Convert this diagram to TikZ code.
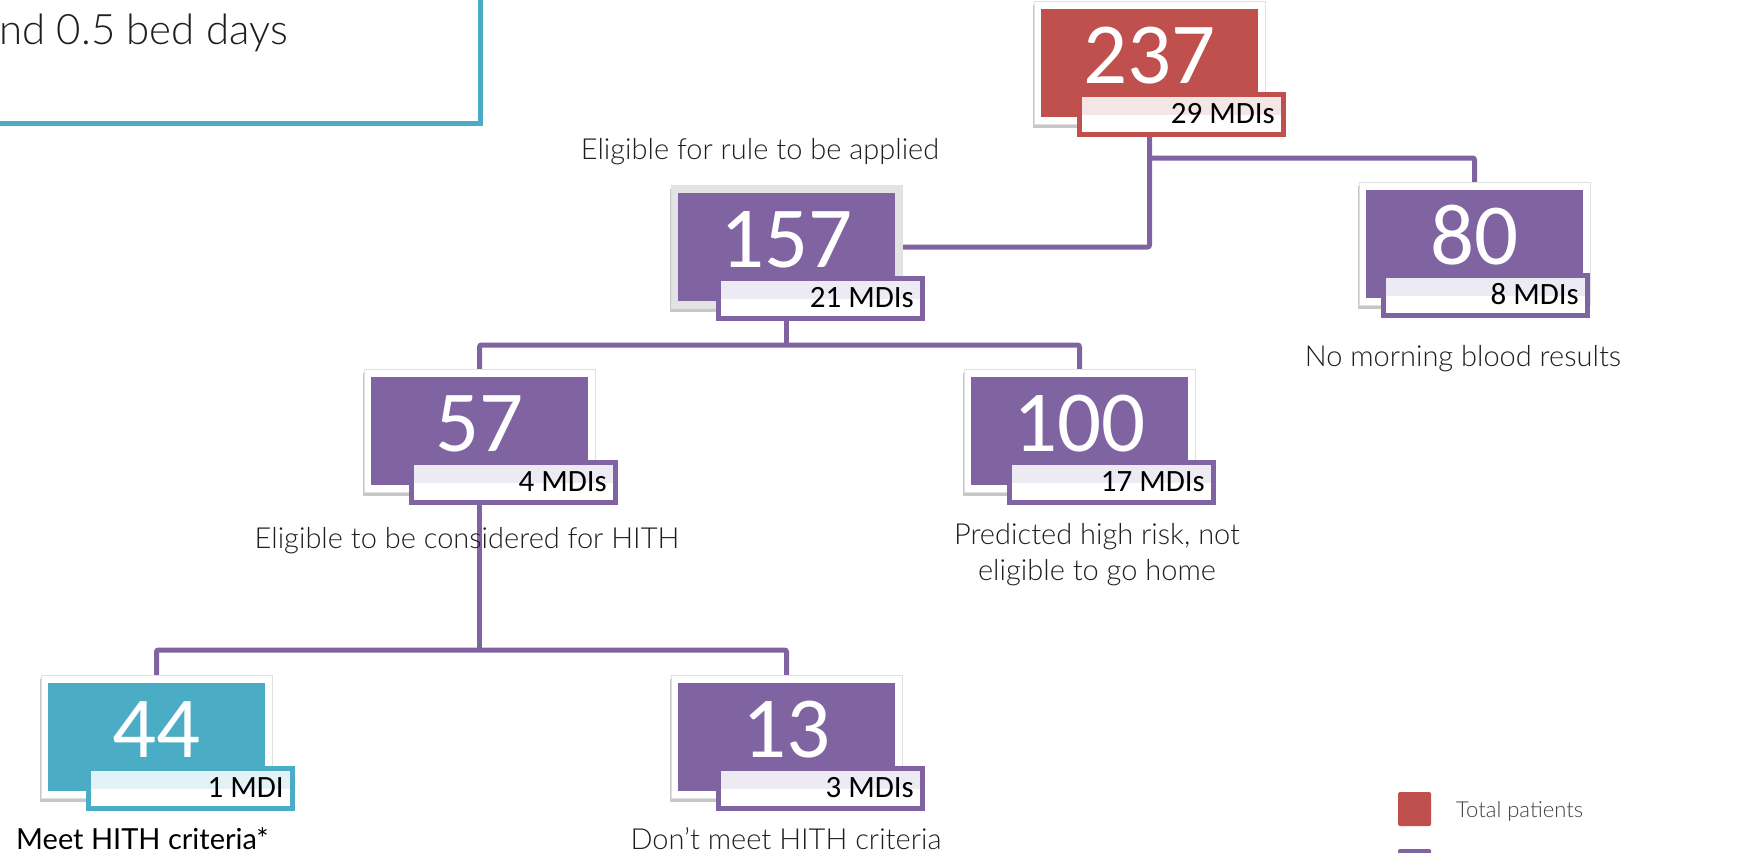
\documentclass[tikz,border=0pt]{standalone}
\usepackage{fontspec}
\setmainfont{Carlito}
\newfontfamily\lab{Lato}[UprightFont={* Light}]
\newfontfamily\labreg{Lato}
\usetikzlibrary{shadows}
\definecolor{cred}{HTML}{C0504D}
\definecolor{cpurple}{HTML}{8064A2}
\definecolor{cteal}{HTML}{4BACC6}
\definecolor{tred}{HTML}{F5E6E6}
\definecolor{tpurple}{HTML}{EEEAF3}
\definecolor{tteal}{HTML}{E3F2F6}
\definecolor{labgray}{HTML}{1E1E1E}
\pgfdeclarelayer{bg}
\pgfsetlayers{bg,main}
\tikzset{
  boxframe/.style={draw=black!12, line width=0.6pt, minimum width=231pt, minimum height=123pt, inner sep=0pt,
    drop shadow={shadow xshift=-1.5pt, shadow yshift=-3pt, opacity=0.22, fill=black}},
  fillbox/.style={minimum width=217pt, minimum height=108pt, inner sep=0pt},
  numtxt/.style={text=white, font=\fontsize{87}{87}\selectfont, inner sep=0pt},
  mdibox/.style={line width=4.5pt, minimum width=204pt, minimum height=40pt, inner sep=0pt,
    path picture={\fill[white] (path picture bounding box.west) rectangle (path picture bounding box.south east);}},
  mditxt/.style={font=\fontsize{31}{31}\selectfont, inner sep=0pt, anchor=base east},
  lbl/.style={font=\lab\fontsize{29}{34}\selectfont, text=labgray, inner sep=0pt, anchor=base},
  conn/.style={draw=cpurple, line width=5pt, rounded corners=2pt},
  legsq/.style={minimum width=33pt, minimum height=34pt, inner sep=0pt, rounded corners=1.5pt},
}
% #1 name #2 colour #3 tint #4 fill left #5 fill top #6 number #7 mdi left #8 mdi text #9 frame fill
\newcommand{\flowbox}[9]{%
  \node[boxframe, fill=#9] (f#1) at ({#4+108.5},{#5+54}) {};
  \node[fillbox, fill=#2] (n#1) at ({#4+108.5},{#5+54}) {};
  \node[numtxt, anchor=base] (t#1) at ({#4+108.5},{#5+74}) {#6};
  \node[mdibox, draw=#2, fill=#3] (m#1) at ({#7+103.5},{#5+105.5}) {};
  \node[mditxt] (d#1) at ({#7+197},{#5+114}) {#8};
}
\begin{document}
\begin{tikzpicture}[x=1pt,y=-1pt]
\path[use as bounding box] (0,0) rectangle (1741,852);
\clip (0,0) rectangle (1741,852);

% top-left box (cut off)
\draw[cteal, line width=5pt] (-20,-20) rectangle (480,123);
\node[lbl, anchor=base west, font=\lab\fontsize{42}{48}\selectfont] (tl) at (-1,44) {nd 0.5 bed days};

\flowbox{237}{cred}{tred}{1041}{9}{237}{1078}{29 MDIs}{white}
\flowbox{157}{cpurple}{tpurple}{678}{193}{157}{717}{21 MDIs}{black!11}
\flowbox{80}{cpurple}{tpurple}{1366}{190}{80}{1382}{8 MDIs}{white}
\flowbox{57}{cpurple}{tpurple}{371}{377}{57}{410}{4 MDIs}{white}
\flowbox{100}{cpurple}{tpurple}{971}{377}{100}{1008}{17 MDIs}{white}
\flowbox{44}{cteal}{tteal}{48}{683}{44}{87}{1 MDI}{white}
\flowbox{13}{cpurple}{tpurple}{678}{683}{13}{717}{3 MDIs}{white}

\coordinate (j1) at (n237.center |- 0,158);
\coordinate (j2) at (n157.center |- 0,345);
\coordinate (j3) at (n57.center |- 0,650);

\begin{pgfonlayer}{bg}
  \draw[conn] (n237.center) |- (f157.east);
  \draw[conn] (j1) -| (f80.north);
  \draw[conn] (n157.center) -- (j2);
  \draw[conn] (f57.north) |- (j2) -| (f100.north);
  \draw[conn] (n57.center) -- (j3);
  \draw[conn] (f44.north) |- (j3) -| (f13.north);
\end{pgfonlayer}

% labels
\node[lbl] (l157) at (760,159) {Eligible for rule to be applied};
\node[lbl] (l80) at (1463,366) {No morning blood results};
\node[lbl] (l57) at (467,548) {Eligible to be considered for HITH};
\node[lbl] (l100a) at (1097,544) {Predicted high risk, not};
\node[lbl] (l100b) at (1097,580) {eligible to go home};
\node[lbl, anchor=base west, font=\labreg\fontsize{29}{34}\selectfont, text=black] (l44) at (16,849) {Meet HITH criteria*};
\node[lbl] (l13) at (786,849) {Don’t meet HITH criteria};

% legend
\node[legsq, fill=cred] (lg1) at (1414.5,809) {};
\node[lbl, anchor=base west, font=\lab\fontsize{22}{26}\selectfont, text=black!75] (lgt1) at (1456,817) {Total patients};
\node[legsq, fill=cpurple] (lg2) at (1414.5,866) {};
\end{tikzpicture}
\end{document}
